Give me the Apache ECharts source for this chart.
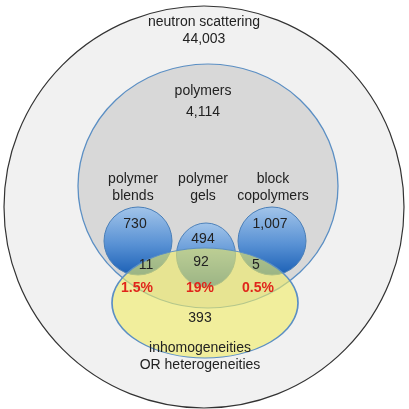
<!DOCTYPE html>
<html><head><meta charset="utf-8">
<script src="https://cdn.jsdelivr.net/npm/echarts@6/dist/echarts.min.js"></script>
<style>html,body{margin:0;background:#fff}#main{width:409px;height:409px}</style>
</head><body><div id="main"></div>
<script>
// sets in the diagram, in draw order
var setNames = ['neutron scattering', 'polymers', 'polymer blends', 'polymer gels', 'block copolymers', 'inhomogeneities OR heterogeneities'];
var setCounts = ['44,003', '4,114', '730', '494', '1,007', '393'];
var overlapCounts = ['11', '92', '5'];
var overlapShares = ['1.5%', '19%', '0.5%'];

// shape layout (pixel space): cx, cy, rx, ry
var shapeLayout = [
  [204, 207, 200, 201],
  [208, 186, 130, 122],
  [138, 241, 34, 34],
  [206, 255, 29.5, 32],
  [272, 241, 34, 34],
  [205, 303, 93, 55]
];
var blueGrad = {type:'linear',x:0,y:0,x2:0,y2:1,colorStops:[{offset:0,color:'#a3c5ea'},{offset:0.55,color:'#5891d4'},{offset:1,color:'#1a5fb5'}]};
var shapeStyles = [
  {fill:'#f1f1f1', stroke:'#333', lineWidth:1.2},
  {fill:'#d8d8d8', stroke:'#5b8fc4', lineWidth:1.2},
  {fill:blueGrad, stroke:'#4a7fb8', lineWidth:1},
  {fill:blueGrad, stroke:'#4a7fb8', lineWidth:1},
  {fill:blueGrad, stroke:'#4a7fb8', lineWidth:1},
  {fill:'rgba(242,236,100,0.6)', stroke:'#5b8fc4', lineWidth:1}
];

// text items: [x, y centre, text, colour, bold]
var texts = [
  [204, 31, setNames[0] + '\n' + setCounts[0], '#222', false],
  [203, 91, setNames[1], '#222', false],
  [203, 112, setCounts[1], '#222', false],
  [133, 188, 'polymer\nblends', '#222', false],
  [203, 188, 'polymer\ngels', '#222', false],
  [273, 188, 'block\ncopolymers', '#222', false],
  [135, 224, setCounts[2], '#222', false],
  [203, 239, setCounts[3], '#222', false],
  [270, 224, setCounts[4], '#222', false],
  [146, 265, overlapCounts[0], '#222', false],
  [201, 262, overlapCounts[1], '#222', false],
  [256, 265, overlapCounts[2], '#222', false],
  [137, 288, overlapShares[0], '#e0251b', true],
  [200, 288, overlapShares[1], '#e0251b', true],
  [258, 288, overlapShares[2], '#e0251b', true],
  [200, 318, setCounts[5], '#222', false],
  [200, 357, 'inhomogeneities\nOR heterogeneities', '#222', false]
];

var chart = echarts.init(document.getElementById('main'));
chart.setOption({
  animation: false,
  grid: {left:0, right:0, top:0, bottom:0},
  xAxis: {type:'value', min:0, max:409, show:false},
  yAxis: {type:'value', min:0, max:409, inverse:true, show:false},
  series: [{
    type: 'custom',
    coordinateSystem: 'cartesian2d',
    data: shapeLayout,
    renderItem: function (params, api) {
      var c = api.coord([api.value(0), api.value(1)]);
      var s = api.size([api.value(2), api.value(3)]);
      var st = shapeStyles[params.dataIndex];
      return {
        type: 'circle',
        x: c[0], y: c[1],
        scaleX: s[0] / s[1], scaleY: 1,
        shape: {cx:0, cy:0, r:s[1]},
        style: {fill: st.fill, stroke: st.stroke, lineWidth: st.lineWidth, strokeNoScale: true}
      };
    }
  }, {
    type: 'custom',
    coordinateSystem: 'cartesian2d',
    data: texts.map(function (t) { return [t[0], t[1]]; }),
    renderItem: function (params, api) {
      var t = texts[params.dataIndex];
      var c = api.coord([api.value(0), api.value(1)]);
      return {
        type: 'text', x: c[0], y: c[1],
        style: {text: t[2], fill: t[3], font: (t[4] ? 'bold ' : '') + '14px "Liberation Sans", Arial', align:'center', verticalAlign:'middle', lineHeight: 17}
      };
    }
  }]
});
</script></body></html>
